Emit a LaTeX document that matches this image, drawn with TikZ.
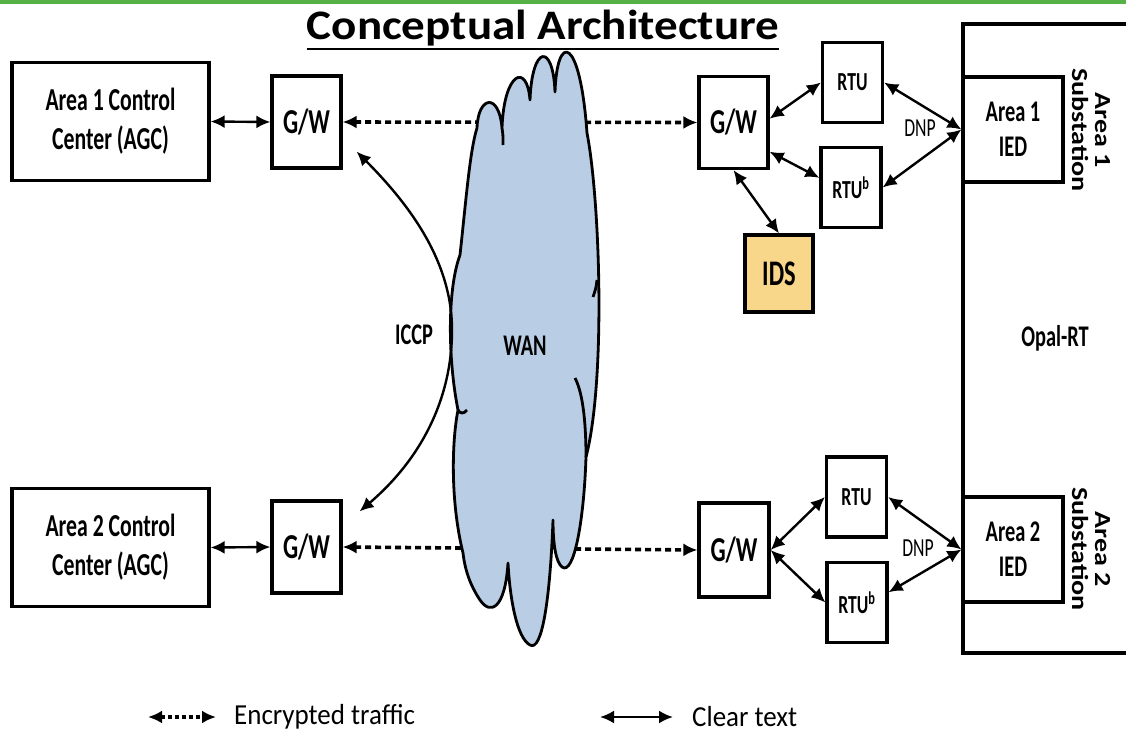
\documentclass[tikz,border=0pt]{standalone}
\usepackage{fontspec}
\setmainfont{Carlito}[FakeStretch=0.68]
\newfontfamily\titlefont{Carlito}[FakeStretch=1.12]
\newfontfamily\vertfont{Carlito}[FakeStretch=1.22]
\newfontfamily\legendfont{Carlito}[FakeStretch=0.93]
\usetikzlibrary{arrows.meta}
\definecolor{topgreen}{HTML}{56B146}
\definecolor{wanblue}{HTML}{B9CDE5}
\definecolor{idsgold}{HTML}{F8D68A}
\newcommand{\fsz}[2]{\fontsize{#1}{#2}\selectfont}

\begin{document}
\begin{tikzpicture}[x=1pt,y=-1pt,box/.style={draw=black,line width=3.2pt,fill=white,inner sep=0pt,align=center,font=\bfseries\fsz{32}{39}},ctrl/.style={box,minimum width=197pt,minimum height=118pt},gate/.style={box,minimum width=69pt,minimum height=92pt,font=\bfseries\fsz{35}{40}},rtu/.style={box,minimum width=60pt,minimum height=80pt,font=\bfseries\fsz{26}{30}},ied/.style={box,minimum width=100pt,minimum height=105pt,font=\bfseries\fsz{30}{35}},subst/.style={rotate=-90,align=center,inner sep=0pt,font=\vertfont\bfseries\fsz{23}{23}},dnp/.style={inner sep=0pt,font=\fsz{26}{28}},label/.style={inner sep=0pt,font=\bfseries\fsz{30}{34}},legendtxt/.style={inner sep=0pt,anchor=west,font=\legendfont\fsz{29}{32}},cleararrow/.style={line width=2.4pt,{Latex[length=14pt,width=13pt]}-{Latex[length=14pt,width=13pt]}},encarrow/.style={cleararrow,line width=3.6pt,dash pattern=on 6pt off 4pt},cloudline/.style={draw=black,line width=2.8pt,line join=round}]
\useasboundingbox (0,0) rectangle (1126,741);
\fill[topgreen] (0,0) rectangle (1126,4);
\node[font=\titlefont\bfseries\fsz{42}{46},anchor=base,inner sep=0pt] (title) at (543,40) {Conceptual Architecture};
\draw[line width=2.6pt] ([yshift=-9pt]title.base west) -- ([yshift=-9pt]title.base east);
\node[box,minimum width=184pt,minimum height=629pt,font=\bfseries\fsz{30}{34}] (opal) at (1055,338.5) {Opal-RT};
\node[ctrl] (ac1) at (110.5,121.5) {Area 1 Control\\Center (AGC)};
\node[gate] (gw1) at (306.5,122) {G/W};
\node[ctrl] (ac2) at (110.5,547.5) {Area 2 Control\\Center (AGC)};
\node[gate] (gw2) at (306.5,547) {G/W};
\node[gate] (gw3) at (733.5,122.5) {G/W};
\node[gate,minimum width=70pt,minimum height=94pt] (gw4) at (734,550) {G/W};
\node[rtu] (rtu1) at (852.5,82.5) {RTU};
\node[rtu] (rtub1) at (851,187.5) {RTU\textsuperscript{b}};
\node[rtu] (rtu2) at (856.5,497) {RTU};
\node[rtu] (rtub2) at (857,602.5) {RTU\textsuperscript{b}};
\node[box,fill=idsgold,minimum width=68pt,minimum height=77pt,font=\bfseries\fsz{36}{40}] (ids) at (779,273.5) {IDS};
\node[ied] (ied1) at (1013,129.5) {Area 1\\IED};
\node[ied] (ied2) at (1013,549.5) {Area 2\\IED};
\node[subst] (sub1) at (1091,130) {Area 1\\Substation};
\node[subst] (sub2) at (1091,549) {Area 2\\Substation};
\node[dnp] (dnp1) at (920,128) {DNP};
\node[dnp] (dnp2) at (918,548) {DNP};
\draw[cleararrow] (ac1.east) -- (gw1.west);
\draw[cleararrow] (ac2.east) -- (gw2.west);
\draw[encarrow] (gw1.east) -- (gw3.west);
\draw[encarrow] (gw2.east) -- (gw4.west);
\draw[cleararrow] (gw3.6) -- (rtu1.west);
\draw[cleararrow] (gw3.-39) -- (rtub1.163);
\draw[cleararrow] (rtu1.east) -- (ied1.west);
\draw[cleararrow] (rtub1.east) -- (ied1.west);
\draw[cleararrow] (gw3.south) -- (ids.north);
\draw[cleararrow] (gw4.east) -- (rtu2.west);
\draw[cleararrow] (gw4.east) -- (rtub2.west);
\draw[cleararrow] (rtu2.east) -- (ied2.west);
\draw[cleararrow] (rtub2.18) -- (ied2.west);
\filldraw[fill=wanblue,cloudline] (477,128) .. controls (478,96) and (499,92) .. (502,128) .. controls (504,72) and (527,62) .. (530,100) .. controls (532,45) and (553,42) .. (555,92) .. controls (557,32) and (580,35) .. (587,133) .. controls (600,200) and (606,380) .. (586,457) .. controls (584,520) and (574,576) .. (562,567) .. controls (556,562) and (553,545) .. (553,520) .. controls (550,600) and (542,652) .. (530,645) .. controls (517,638) and (510,600) .. (508,563) .. controls (505,610) and (490,615) .. (480,600) .. controls (470,585) and (465,570) .. (463,553) .. controls (450,500) and (452,440) .. (458,410) .. controls (448,360) and (447,290) .. (460,255) .. controls (466,200) and (470,150) .. (477,128) -- cycle;
\draw[cloudline] (502,128) .. controls (503,135) .. (503,145);
\draw[cloudline] (575,378) .. controls (584,395) and (586,430) .. (586,457);
\draw[cloudline] (458,410) .. controls (460,414) and (464,414) .. (467,410);
\draw[cloudline] (597,280) .. controls (596,288) .. (593,297);
\node[label] (wan) at (525,346) {WAN};
\node[label] (iccp) at (414,335) {ICCP};
\draw[cleararrow] ([shift={(14pt,18pt)}]gw1.south east) .. controls (420,215) and (452,270) .. (452,330) .. controls (452,400) and (420,460) .. ([shift={(17pt,-12pt)}]gw2.north east);
\coordinate (le1) at (148,717);
\coordinate (le2) at (216,717);
\draw[encarrow,dash pattern=on 4pt off 3pt] (le1) -- (le2);
\node[legendtxt] (enctxt) at (234,717) {Encrypted traffic};
\coordinate (lc1) at (600,717);
\coordinate (lc2) at (673,717);
\draw[cleararrow] (lc1) -- (lc2);
\node[legendtxt] (cleartxt) at (692,717) {Clear text};
\end{tikzpicture}
\end{document}
